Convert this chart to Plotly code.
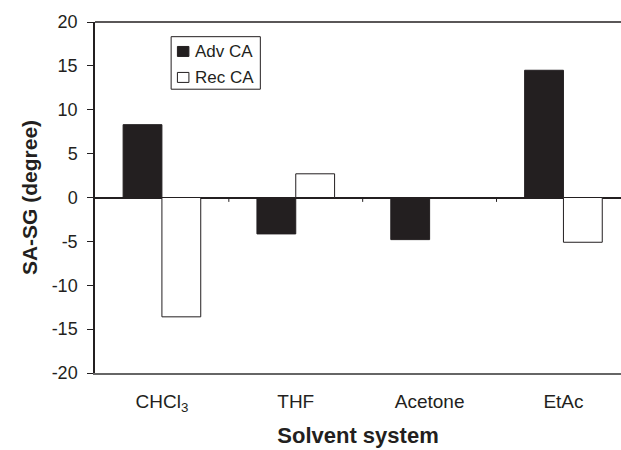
import plotly.graph_objects as go

categories = ["CHCl<sub>3</sub>", "THF", "Acetone", "EtAc"]
adv_ca = [8.3, -4.15, -4.8, 14.5]
rec_ca = [-13.6, 2.7, 0.0, -5.1]
y_ticks = [-20, -15, -10, -5, 0, 5, 10, 15, 20]
y_ticktext = ["-20", "-15", "-10", "-5", "0", "5", "10", "15", "20"]

FONT = "Liberation Sans, Arial, sans-serif"
INK = "#231f20"

W, H = 621, 450
ML, MR, MT, MB = 94.5, 0, 22, 76.5
PW, PH = W - ML - MR, H - MT - MB


def px(x):
    return (x - ML) / PW


def py(y):
    return (H - MB - y) / PH


fig = go.Figure()
fig.add_trace(go.Bar(x=categories, y=adv_ca, name="Adv CA",
                     marker=dict(color=INK, line=dict(color=INK, width=1)),
                     showlegend=False))
fig.add_trace(go.Bar(x=categories, y=rec_ca, name="Rec CA",
                     marker=dict(color="white", line=dict(color=INK, width=1)),
                     showlegend=False))

# category-boundary ticks on the zero line
for b in [0.5, 1.5, 2.5]:
    fig.add_shape(type="line", xref="x", yref="y", x0=b, x1=b, y0=0, y1=-0.5,
                  line=dict(color=INK, width=1))

# top border line
fig.add_shape(type="line", xref="paper", yref="paper", x0=0, x1=1, y0=1, y1=1,
              line=dict(color=INK, width=1.5))

# custom legend (box, swatches, labels)
fig.add_shape(type="rect", xref="paper", yref="paper",
              x0=px(170.7), x1=px(260), y0=py(89.3), y1=py(36.7),
              line=dict(color=INK, width=1), fillcolor="white")
swatches = [(fig.data[0], 51.5), (fig.data[1], 77.5)]
for tr, yc in swatches:
    fig.add_shape(type="rect", xref="paper", yref="paper",
                  x0=px(177), x1=px(188.5), y0=py(yc + 5), y1=py(yc - 5),
                  line=dict(color=INK, width=1), fillcolor=tr.marker.color)
    fig.add_annotation(xref="paper", yref="paper", x=px(193), y=py(yc),
                       text=tr.name, showarrow=False, xanchor="left", yanchor="middle",
                       font=dict(size=17, family=FONT, color=INK))

fig.update_layout(
    width=W, height=H,
    margin=dict(l=ML, r=MR, t=MT, b=MB),
    paper_bgcolor="white", plot_bgcolor="white",
    font=dict(family=FONT, color=INK),
    barmode="group", bargap=0.42, bargroupgap=0,
    showlegend=False,
    xaxis=dict(range=[-0.5, 3.43], showline=True, linecolor="#666666", linewidth=2,
               mirror=False, ticks="", tickfont=dict(size=19, family=FONT, color=INK),
               ticklabelstandoff=10,
               title=dict(text="<b>Solvent system</b>", font=dict(size=22, family=FONT, color=INK), standoff=14),
               showgrid=False, zeroline=False, fixedrange=True),
    yaxis=dict(range=[-20, 20], tickvals=y_ticks, ticktext=y_ticktext,
               showline=True, linecolor=INK, linewidth=1.5,
               ticks="outside", ticklen=6, tickcolor=INK, tickwidth=1,
               tickfont=dict(size=18, family=FONT, color=INK), ticklabelstandoff=6,
               title=dict(text="<b>SA-SG (degree)</b>", font=dict(size=21, family=FONT, color=INK), standoff=8),
               showgrid=False, zeroline=True, zerolinecolor=INK, zerolinewidth=1.5),
)

fig.write_html("out.html")
